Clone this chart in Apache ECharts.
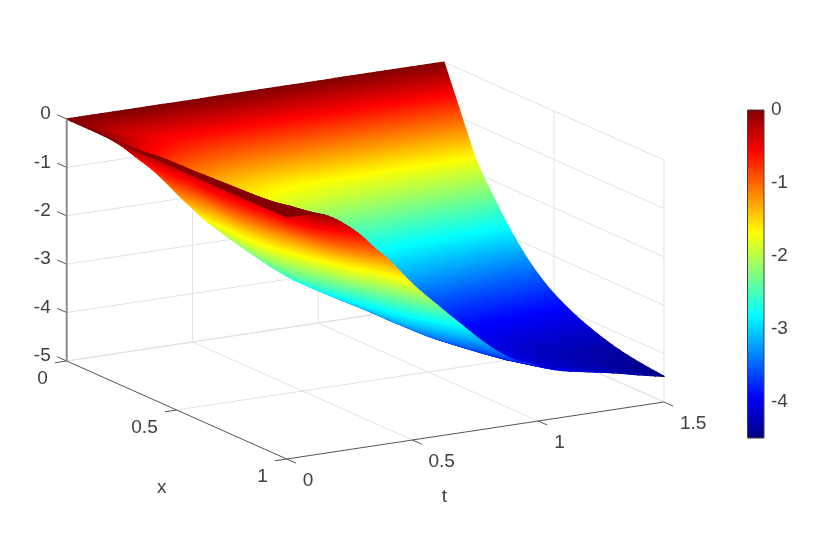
<!DOCTYPE html>
<html>
<head>
<meta charset="utf-8">
<title>surface</title>
<script src="https://cdn.jsdelivr.net/npm/echarts@6/dist/echarts.min.js"></script>
<style>
html, body { margin: 0; padding: 0; background: #fff; }
#main { width: 830px; height: 548px; }
</style>
</head>
<body>
<div id="main"></div>
<script>
// surface samples. one array per x, one value per t
var tValues = [0, 0.05, 0.1, 0.15, 0.2, 0.25, 0.3, 0.35, 0.4, 0.5, 0.6, 0.7, 0.8, 0.9, 1, 1.1, 1.2, 1.3, 1.4, 1.5];
var xValues = [0, 0.05, 0.1, 0.15, 0.2, 0.3, 0.4, 0.5, 0.6, 0.7, 0.8, 0.9, 1];
var zAtX000 = [0, 0, 0, 0, 0, 0, 0, 0, 0, 0, 0, 0, 0, 0, 0, 0, 0, 0, 0, 0];
var zAtX005 = [0, -0.1, -0.2, -0.29, -0.36, -0.42, -0.46, -0.5, -0.52, -0.55, -0.57, -0.58, -0.59, -0.6, -0.6, -0.6, -0.6, -0.6, -0.6, -0.6];
var zAtX010 = [0, -0.1, -0.2, -0.3, -0.4, -0.5, -0.6, -0.7, -0.77, -0.9, -1, -1.06, -1.1, -1.13, -1.15, -1.17, -1.18, -1.19, -1.2, -1.2];
var zAtX015 = [0, -0.14, -0.28, -0.42, -0.56, -0.7, -0.84, -0.98, -1.1, -1.32, -1.48, -1.6, -1.67, -1.71, -1.73, -1.75, -1.76, -1.77, -1.77, -1.77];
var zAtX020 = [0, -0.2, -0.45, -0.68, -0.88, -1.05, -1.2, -1.3, -1.38, -1.55, -1.68, -1.78, -1.86, -1.92, -1.97, -2.01, -2.05, -2.09, -2.12, -2.15];
var zAtX030 = [0, -0.13, -0.42, -0.8, -1.17, -1.48, -1.76, -1.97, -2.11, -2.26, -2.38, -2.48, -2.56, -2.62, -2.68, -2.73, -2.77, -2.8, -2.83, -2.85];
var zAtX040 = [0, -0.08, -0.33, -0.7, -1.05, -1.42, -1.8, -2.1, -2.32, -2.55, -2.72, -2.85, -2.96, -3.05, -3.12, -3.18, -3.24, -3.3, -3.36, -3.4];
var zAtX050 = [0, -0.07, -0.32, -0.72, -1.08, -1.42, -1.83, -2.15, -2.42, -2.78, -3.05, -3.25, -3.4, -3.5, -3.58, -3.64, -3.69, -3.72, -3.75, -3.78];
var zAtX060 = [0, -0.05, -0.3, -0.68, -1.02, -1.35, -1.72, -2.05, -2.35, -2.76, -3.06, -3.32, -3.56, -3.75, -3.87, -3.93, -3.97, -3.99, -4.01, -4.03];
var zAtX070 = [0, -0.03, -0.25, -0.6, -0.92, -1.2, -1.5, -1.8, -2.1, -2.62, -3.03, -3.35, -3.62, -3.82, -3.97, -4.07, -4.13, -4.17, -4.2, -4.21];
var zAtX080 = [0, -0.02, -0.18, -0.52, -0.8, -1.05, -1.3, -1.55, -1.85, -2.35, -2.92, -3.33, -3.6, -3.8, -3.98, -4.12, -4.22, -4.28, -4.32, -4.34];
var zAtX090 = [0, -0.01, -0.06, -0.3, -0.6, -0.85, -1.08, -1.3, -1.5, -2.05, -2.65, -3.15, -3.52, -3.77, -3.96, -4.12, -4.22, -4.3, -4.37, -4.42];
var zAtX100 = [0, 0, -0.01, -0.08, -0.22, -0.41, -0.64, -0.92, -1.17, -1.78, -2.3, -2.8, -3.28, -3.65, -3.87, -4.04, -4.14, -4.24, -4.36, -4.47];
var zRows = [zAtX000, zAtX005, zAtX010, zAtX015, zAtX020, zAtX030, zAtX040, zAtX050, zAtX060, zAtX070, zAtX080, zAtX090, zAtX100];

var zTicks = [0, -1, -2, -3, -4, -5];
var xTicks = [0, 0.5, 1];
var tTicks = [0, 0.5, 1, 1.5];
var colorbarTicks = [0, -1, -2, -3, -4];
var colorMin = -4.5;
var colorMax = 0;

var jetStops = [
  { offset: 0, color: "#000080" },
  { offset: 0.125, color: "#0000ff" },
  { offset: 0.375, color: "#00ffff" },
  { offset: 0.625, color: "#ffff00" },
  { offset: 0.875, color: "#ff0000" },
  { offset: 1, color: "#800000" }
];

var fontName = '"Liberation Sans", Arial, sans-serif';
var textColor = "#404040";
var meshSteps = 3; // drawn facets per sample cell, like smooth: true on a line

// view of the plot box (az 30, el 15), screen step for one unit of t, x, z
function project(t, x, z) {
  return [66.7 + 251.5 * t + 220 * x, 119 - 38 * t + 98 * x - 48.4 * z];
}
function nearness(t, x, z) {
  return -140.4 * t + 368 * x + 13 * z;
}

function jetColor(z) {
  var p = (z - colorMin) / (colorMax - colorMin);
  for (var i = 1; i < jetStops.length; i++) {
    if (p <= jetStops[i].offset) {
      var a = jetStops[i - 1], b = jetStops[i];
      return echarts.color.lerp((p - a.offset) / (b.offset - a.offset), [a.color, b.color]);
    }
  }
  return jetStops[jetStops.length - 1].color;
}

// monotone cubic through the samples, only used to draw a smooth sheet
function smoothCurve(xs, ys, steps) {
  var n = xs.length, d = [], m = [], out = [];
  for (var i = 0; i < n - 1; i++) d.push((ys[i + 1] - ys[i]) / (xs[i + 1] - xs[i]));
  m[0] = d[0];
  m[n - 1] = d[n - 2];
  for (var k = 1; k < n - 1; k++) {
    m[k] = d[k - 1] * d[k] <= 0 ? 0 : 2 * d[k - 1] * d[k] / (d[k - 1] + d[k]);
  }
  for (var s = 0; s < n - 1; s++) {
    var h = xs[s + 1] - xs[s];
    for (var q = 0; q < steps; q++) {
      var u = q / steps;
      out.push(
        (2 * u * u * u - 3 * u * u + 1) * ys[s] +
        (u * u * u - 2 * u * u + u) * h * m[s] +
        (3 * u * u - 2 * u * u * u) * ys[s + 1] +
        (u * u * u - u * u) * h * m[s + 1]
      );
    }
  }
  out.push(ys[n - 1]);
  return out;
}

function fineAxis(xs, steps) {
  var out = [];
  for (var i = 0; i < xs.length - 1; i++) {
    for (var q = 0; q < steps; q++) out.push(xs[i] + (xs[i + 1] - xs[i]) * q / steps);
  }
  out.push(xs[xs.length - 1]);
  return out;
}

var tFine = fineAxis(tValues, meshSteps);
var xFine = fineAxis(xValues, meshSteps);
var rowsAlongT = zRows.map(function(row) {
  return smoothCurve(tValues, row, meshSteps);
});
var zFine = xFine.map(function() { return []; });
tFine.forEach(function(t, i) {
  var col = smoothCurve(xValues, rowsAlongT.map(function(r) { return r[i]; }), meshSteps);
  col.forEach(function(z, j) {
    zFine[j][i] = z;
  });
});

// two triangles per mesh cell, far ones first
var triangles = [];
function addTriangle(a, b, c) {
  var verts = [a, b, c].map(function(v) {
    return { t: tFine[v[0]], x: xFine[v[1]], z: zFine[v[1]][v[0]] };
  });
  var near = 0;
  verts.forEach(function(v) {
    near += nearness(v.t, v.x, v.z) / 3;
  });
  triangles.push({ verts: verts, near: near });
}
for (var j = 0; j < xFine.length - 1; j++) {
  for (var i = 0; i < tFine.length - 1; i++) {
    addTriangle([i, j], [i + 1, j], [i + 1, j + 1]);
    addTriangle([i, j], [i + 1, j + 1], [i, j + 1]);
  }
}
triangles.sort(function(a, b) {
  return a.near - b.near;
});

// shade a triangle with the colormap laid along its z direction on screen
function triangleFill(pts, zs) {
  var ux = pts[1][0] - pts[0][0], uy = pts[1][1] - pts[0][1];
  var vx = pts[2][0] - pts[0][0], vy = pts[2][1] - pts[0][1];
  var dz1 = zs[1] - zs[0], dz2 = zs[2] - zs[0];
  var det = ux * vy - uy * vx;
  var avg = (zs[0] + zs[1] + zs[2]) / 3;
  if (Math.abs(det) < 0.5) return jetColor(avg);
  var gx = (dz1 * vy - dz2 * uy) / det;
  var gy = (ux * dz2 - vx * dz1) / det;
  var g2 = gx * gx + gy * gy;
  if (g2 < 1e-7) return jetColor(avg);
  var s0 = (colorMin - zs[0]) / g2;
  var s1 = (colorMax - zs[0]) / g2;
  return new echarts.graphic.LinearGradient(
    pts[0][0] + gx * s0, pts[0][1] + gy * s0,
    pts[0][0] + gx * s1, pts[0][1] + gy * s1,
    jetStops, true
  );
}

// box grid lines and axis lines as [t1, x1, z1, t2, x2, z2]
var gridSegments = [];
zTicks.forEach(function(z) {
  if (z !== 0) gridSegments.push([0, 0, z, 1.5, 0, z]);
  gridSegments.push([1.5, 0, z, 1.5, 1, z]);
});
tTicks.forEach(function(t) {
  if (t > 0) gridSegments.push([t, 0, -5, t, 0, 0]);
  if (t > 0) gridSegments.push([t, 0, -5, t, 1, -5]);
});
xTicks.forEach(function(x) {
  if (x > 0) gridSegments.push([1.5, x, -5, 1.5, x, 0]);
  if (x < 1) gridSegments.push([0, x, -5, 1.5, x, -5]);
});

var axisSegments = [
  [0, 0, -5, 0, 1, -5],
  [0, 1, -5, 1.5, 1, -5]
];
zTicks.forEach(function(z) {
  axisSegments.push([0, 0, z, 0, -0.043, z]);
});
xTicks.forEach(function(x) {
  axisSegments.push([0, x, -5, -0.047, x, -5]);
});
tTicks.forEach(function(t) {
  axisSegments.push([t, 1, -5, t, 1.042, -5]);
});

// tick labels, then the two axis names
var labels = [];
zTicks.forEach(function(z) {
  labels.push({ at: [0, 0, z], dx: -16, dy: -5, text: String(z), align: "right" });
});
xTicks.forEach(function(x) {
  labels.push({ at: [0, x, -5], dx: -19, dy: 18, text: String(x), align: "right" });
});
tTicks.forEach(function(t) {
  labels.push({ at: [t, 1, -5], dx: 16, dy: 22, text: String(t), align: "left" });
});
labels.push({ at: [0, 0.5, -5], dx: -15, dy: 78, text: "x", align: "center" });
labels.push({ at: [0.75, 1, -5], dx: -31, dy: 66, text: "t", align: "center" });

function segmentSeries(segments, z, stroke, width) {
  return {
    type: "custom",
    xAxisIndex: 0,
    yAxisIndex: 0,
    silent: true,
    z: z,
    clip: false,
    data: segments.map(function(s, i) { return [i]; }),
    renderItem: function(params, api) {
      var s = segments[params.dataIndex];
      var p1 = api.coord(project(s[0], s[1], s[2]));
      var p2 = api.coord(project(s[3], s[4], s[5]));
      return {
        type: "line",
        shape: { x1: p1[0], y1: p1[1], x2: p2[0], y2: p2[1] },
        style: { stroke: stroke, lineWidth: width }
      };
    }
  };
}

var chart = echarts.init(document.getElementById("main"));
chart.setOption({
  animation: false,
  backgroundColor: "#fff",
  grid: [
    { left: 0, right: 0, top: 0, bottom: 0, show: false },
    { left: 747.5, top: 110, width: 16.5, height: 328, show: false }
  ],
  xAxis: [
    { type: "value", gridIndex: 0, min: 0, max: 830, show: false },
    { type: "value", gridIndex: 1, min: 0, max: 1, show: false }
  ],
  yAxis: [
    { type: "value", gridIndex: 0, min: 0, max: 548, inverse: true, show: false },
    {
      type: "value",
      gridIndex: 1,
      position: "right",
      min: colorMin,
      max: colorMax,
      axisLine: { show: false, onZero: false },
      splitLine: { show: false },
      axisTick: {
        show: true,
        inside: true,
        length: 3,
        customValues: colorbarTicks,
        lineStyle: { color: "#404040" }
      },
      axisLabel: {
        show: true,
        margin: 7,
        customValues: colorbarTicks,
        color: textColor,
        fontFamily: fontName,
        fontSize: 19
      }
    }
  ],
  series: [
    segmentSeries(gridSegments, 1, "#e2e2e2", 1),
    {
      type: "custom",
      xAxisIndex: 0,
      yAxisIndex: 0,
      silent: true,
      z: 2,
      clip: false,
      progressive: 0,
      data: triangles.map(function(tri, i) { return [i]; }),
      renderItem: function(params, api) {
        var verts = triangles[params.dataIndex].verts;
        var pts = verts.map(function(v) {
          return api.coord(project(v.t, v.x, v.z));
        });
        var fill = triangleFill(pts, verts.map(function(v) { return v.z; }));
        return {
          type: "polygon",
          shape: { points: pts },
          style: { fill: fill, stroke: fill, lineWidth: 1.2, lineJoin: "round" }
        };
      }
    },
    segmentSeries(axisSegments, 3, "#555555", 1),
    segmentSeries([[0, 0, 0, 0, 0, -5]], 3, "#8c8c8c", 2),
    {
      type: "custom",
      xAxisIndex: 0,
      yAxisIndex: 0,
      silent: true,
      z: 4,
      clip: false,
      data: labels.map(function(l, i) { return [i]; }),
      renderItem: function(params, api) {
        var l = labels[params.dataIndex];
        var p = api.coord(project(l.at[0], l.at[1], l.at[2]));
        return {
          type: "text",
          style: {
            x: p[0] + l.dx,
            y: p[1] + l.dy,
            text: l.text,
            fill: textColor,
            font: "19px " + fontName,
            align: l.align,
            verticalAlign: "middle"
          }
        };
      }
    },
    {
      // colorbar
      type: "custom",
      xAxisIndex: 1,
      yAxisIndex: 1,
      silent: true,
      z: 2,
      clip: false,
      data: [[0]],
      renderItem: function(params, api) {
        var a = api.coord([0, colorMax]);
        var b = api.coord([1, colorMin]);
        return {
          type: "rect",
          shape: { x: a[0], y: a[1], width: b[0] - a[0], height: b[1] - a[1] },
          style: {
            fill: new echarts.graphic.LinearGradient(0, 1, 0, 0, jetStops),
            stroke: "#404040",
            lineWidth: 1
          }
        };
      }
    }
  ]
});
</script>
</body>
</html>
